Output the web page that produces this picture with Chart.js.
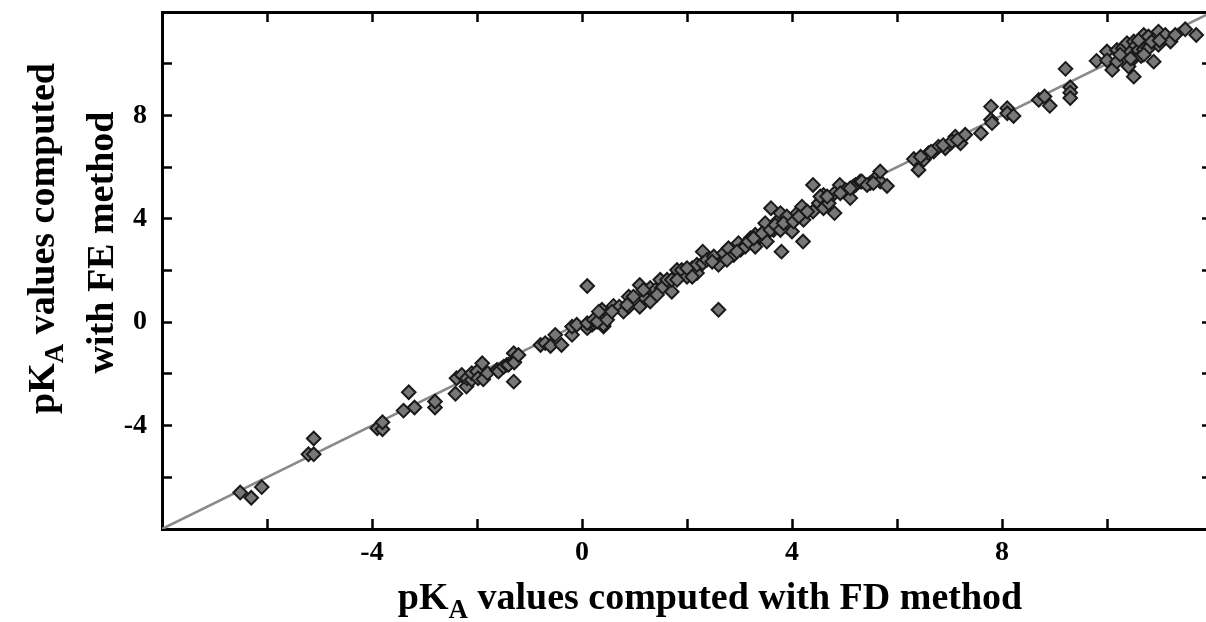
<!DOCTYPE html>
<html>
<head>
<meta charset="utf-8">
<script src="https://cdn.jsdelivr.net/npm/chart.js@4.4.1/dist/chart.umd.min.js"></script>
<style>
  html, body { margin: 0; padding: 0; background: #fff; overflow: hidden; }
  #wrap { position: absolute; left: 0; top: 0; width: 1230px; height: 622px; }
</style>
</head>
<body>
<div id="wrap"><canvas id="grafica" width="1230" height="622"></canvas></div>
<script>
// pKa calculados con el metodo FD (eje x)
const fdValues = [
  -6.51, -6.30, -6.10, -5.21, -5.11, -5.11, -3.90, -3.80, -3.80, -3.40, -3.30, -3.19, -2.80, -2.80,
  -2.41, -2.39, -2.29, -2.20, -2.19, -2.10, -2.10, -2.00, -1.98, -1.90, -1.88, -1.80, -1.62, -1.59,
  -1.49, -1.43, -1.40, -1.30, -1.30, -1.30, -1.29, -1.21, -0.79, -0.70, -0.60, -0.51, -0.39, -0.19,
  -0.19, -0.10, 0.10, 0.10, 0.19, 0.22, 0.29, 0.38, 0.38, 0.41, 0.41, 0.51, 0.60, 0.71, 0.79, 0.89,
  0.89, 0.98, 1.10, 1.10, 1.21, 1.30, 1.30, 1.40, 1.49, 1.52, 1.62, 1.71, 1.71, 1.81, 1.90, 2.00,
  2.10, 2.19, 2.19, 2.30, 2.30, 2.38, 2.51, 2.60, 2.60, 2.70, 2.79, 2.89, 2.98, 3.02, 3.11, 3.21,
  3.30, 3.30, 3.40, 3.49, 3.52, 3.60, 3.65, 3.71, 3.78, 3.80, 3.90, 3.90, 4.00, 4.10, 4.19, 4.21,
  4.22, 4.40, 4.40, 4.51, 4.60, 4.60, 4.70, 4.81, 4.81, 4.91, 5.02, 5.11, 5.17, 5.21, 5.30, 5.33,
  5.49, 5.59, 5.68, 5.68, 5.81, 6.32, 6.41, 6.51, 6.60, 6.70, 6.79, 6.92, 7.02, 7.11, 7.21, 7.30,
  7.60, 7.79, 7.79, 7.81, 8.10, 8.10, 8.22, 8.70, 8.81, 8.91, 9.21, 9.30, 9.30, 9.30, 9.80, 10.00,
  10.00, 10.10, 10.19, 10.19, 10.30, 10.38, 10.41, 10.45, 10.51, 10.51, 10.51, 10.55, 10.60, 10.65,
  10.70, 10.70, 10.79, 10.79, 10.89, 10.89, 10.98, 10.98, 11.11, 11.21, 11.30, 11.49, 11.70,
  0.10, 0.22, 0.29, 0.32, 0.48, 0.57, 0.86, 1.17, 1.43, 1.81, 2.00, 2.10, 2.48, 2.76, 2.95, 3.17,
  3.27, 3.43, 3.59, 3.68, 3.78, 3.84, 4.03, 4.13, 4.29, 4.54, 4.67, 4.92, 5.11, 5.43, 5.55,
  6.45, 6.65, 6.88, 7.05, 7.15, 10.25, 10.45, 10.60, 10.70, 10.85, 11.00
];
// pKa calculados con el metodo FE (eje y)
const feValues = [
  -6.59, -6.79, -6.38, -5.11, -5.11, -4.50, -4.10, -4.14, -3.87, -3.42, -2.71, -3.30, -3.30, -3.07,
  -2.77, -2.17, -2.04, -2.49, -2.17, -2.23, -1.97, -1.91, -2.17, -1.59, -2.21, -1.97, -1.85, -1.91,
  -1.72, -1.65, -1.65, -1.20, -2.30, -1.52, -1.56, -1.27, -0.88, -0.81, -0.92, -0.49, -0.88, -0.49,
  -0.17, -0.10, 1.40, -0.23, -0.10, -0.04, 0.22, 0.48, 0.09, -0.17, -0.10, 0.35, 0.63, 0.60, 0.41, 0.99,
  0.60, 0.99, 1.44, 0.60, 0.93, 1.32, 0.80, 1.25, 1.64, 1.32, 1.64, 1.18, 1.64, 2.02, 2.02, 1.76,
  2.09, 1.90, 2.22, 2.73, 2.28, 2.41, 2.54, 0.48, 2.22, 2.67, 2.86, 2.60, 3.06, 2.80, 2.92, 3.25,
  3.38, 2.92, 3.31, 3.83, 3.12, 4.41, 3.57, 3.89, 4.22, 2.73, 4.09, 3.70, 3.51, 4.22, 4.47, 3.12,
  3.96, 5.31, 4.28, 4.60, 4.92, 4.41, 4.60, 4.22, 4.99, 5.31, 5.12, 4.80, 5.25, 5.31, 5.44, 5.44,
  5.38, 5.57, 5.44, 5.83, 5.27, 6.31, 5.89, 6.28, 6.54, 6.60, 6.79, 6.73, 6.92, 7.18, 6.92, 7.25,
  7.31, 8.34, 7.83, 7.70, 8.28, 8.08, 7.98, 8.60, 8.73, 8.37, 9.80, 9.09, 8.88, 8.67, 10.11, 10.47,
  10.13, 9.76, 10.53, 10.08, 10.60, 10.79, 9.89, 10.45, 9.50, 10.21, 10.86, 10.70, 10.53, 10.30,
  11.11, 10.55, 10.60, 11.05, 10.92, 10.08, 11.24, 10.73, 11.11, 10.86, 11.11, 11.33, 11.11,
  -0.04, 0.09, 0.02, 0.41, 0.09, 0.41, 0.67, 1.25, 1.06, 1.64, 2.09, 1.76, 2.34, 2.41, 2.73, 3.12,
  3.25, 3.44, 3.57, 3.76, 3.57, 3.83, 3.89, 4.09, 4.28, 4.86, 4.86, 4.99, 5.18, 5.31, 5.38,
  6.40, 6.60, 6.85, 7.00, 7.05, 10.35, 10.20, 10.90, 10.35, 10.85, 10.90
];
// recta y = x
const identityX = [-8, 12];
const identityY = [-8, 12];
// etiquetas visibles de los ejes
const xTickLabels = [-4, 0, 4, 8];
const yTickLabels = [-4, 0, 4, 8];

const serif = "'Liberation Serif', 'Times New Roman', serif";

const puntos = fdValues.map((x, i) => ({ x: x, y: feValues[i] }));
const recta = identityX.map((x, i) => ({ x: x, y: identityY[i] }));

// Dibuja un texto con subindice (pK_A ...)
function textoPartes(ctx, partes, cx, baseline, size) {
  let total = 0;
  partes.forEach(p => {
    ctx.font = 'bold ' + (p.sub ? Math.round(size * 0.7) : size) + 'px ' + serif;
    p.w = ctx.measureText(p.t).width;
    total += p.w;
  });
  let x = cx - total / 2;
  ctx.textAlign = 'left';
  ctx.textBaseline = 'alphabetic';
  partes.forEach(p => {
    ctx.font = 'bold ' + (p.sub ? Math.round(size * 0.7) : size) + 'px ' + serif;
    ctx.fillText(p.t, x, baseline + (p.sub ? size * 0.24 : 0));
    x += p.w;
  });
}

const titulosEjes = {
  id: 'titulosEjes',
  afterDraw(chart) {
    const ctx = chart.ctx;
    const area = chart.chartArea;
    ctx.save();
    ctx.fillStyle = '#000';
    // titulo eje x
    textoPartes(ctx, [{ t: 'pK' }, { t: 'A', sub: true }, { t: ' values computed with FD method' }],
      (area.left + area.right) / 2 + 23, area.bottom + 80, 38);
    // titulo eje y (dos lineas, rotado)
    const cy = (area.top + area.bottom) / 2 - 32;
    ctx.save();
    ctx.translate(54, cy);
    ctx.rotate(-Math.PI / 2);
    textoPartes(ctx, [{ t: 'pK' }, { t: 'A', sub: true }, { t: ' values computed' }], 0, 0, 38);
    ctx.restore();
    ctx.save();
    ctx.translate(113, cy + 4);
    ctx.rotate(-Math.PI / 2);
    textoPartes(ctx, [{ t: 'with FE method' }], 0, 0, 38);
    ctx.restore();
    ctx.restore();
  }
};

function ejeGrid() {
  return { drawOnChartArea: false, drawTicks: true, tickLength: -10, tickWidth: 2.5, tickColor: '#000' };
}
const borde = { display: true, color: '#000', width: 3 };
const fuenteTicks = { family: serif, size: 28, weight: 'bold' };

new Chart(document.getElementById('grafica').getContext('2d'), {
  type: 'scatter',
  data: {
    datasets: [
      {
        label: 'pKA',
        data: puntos,
        pointStyle: 'rectRot',
        pointRadius: 6.8,
        backgroundColor: '#777777',
        borderColor: '#1a1a1a',
        borderWidth: 2
      },
      {
        label: 'y = x',
        data: recta,
        showLine: true,
        pointRadius: 0,
        borderColor: '#8a8a8a',
        borderWidth: 2.5
      }
    ]
  },
  options: {
    responsive: false,
    animation: false,
    layout: { padding: 0 },
    plugins: { legend: { display: false }, tooltip: { enabled: false } },
    scales: {
      x: {
        type: 'linear', position: 'bottom', min: -8, max: 12,
        ticks: {
          stepSize: 2, autoSkip: false, maxRotation: 0, padding: 17, color: '#000', font: fuenteTicks,
          callback: v => xTickLabels.includes(v) ? String(v) : ''
        },
        grid: ejeGrid(), border: borde,
        afterFit(s) { s.height = 93; s.paddingLeft = 0; s.paddingRight = 0; }
      },
      x2: {
        type: 'linear', position: 'top', min: -8, max: 12,
        ticks: { stepSize: 2, autoSkip: false, display: false },
        grid: ejeGrid(), border: borde,
        afterFit(s) { s.height = 12; s.paddingLeft = 0; s.paddingRight = 0; }
      },
      y: {
        type: 'linear', position: 'left', min: -8, max: 12,
        ticks: {
          stepSize: 2, autoSkip: false, padding: 25, color: '#000', font: fuenteTicks,
          callback: v => yTickLabels.includes(v) ? String(v) : ''
        },
        grid: ejeGrid(), border: borde,
        afterFit(s) { s.width = 162; s.paddingTop = 0; s.paddingBottom = 0; }
      },
      y2: {
        type: 'linear', position: 'right', min: -8, max: 12,
        ticks: { stepSize: 2, autoSkip: false, display: false },
        grid: ejeGrid(), border: borde,
        afterFit(s) { s.width = 18; s.paddingTop = 0; s.paddingBottom = 0; }
      }
    }
  },
  plugins: [titulosEjes]
});
</script>
</body>
</html>
